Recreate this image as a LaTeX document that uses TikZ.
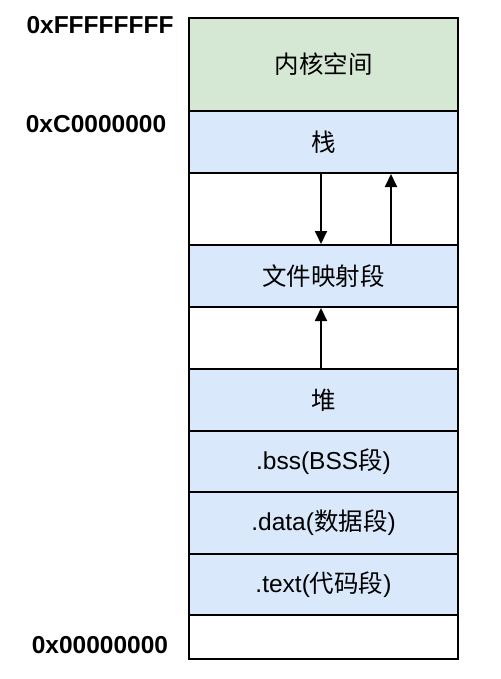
\documentclass[tikz,border=0pt]{standalone}
\usepackage{fontspec}
\setmainfont{Liberation Sans}
\newfontfamily\cjk{Noto Sans CJK SC}
\usetikzlibrary{arrows.meta}
\definecolor{kgreen}{HTML}{D5E8D4}
\definecolor{sblue}{HTML}{DAE8FC}
\begin{document}
\begin{tikzpicture}[x=1pt,y=-1pt,
  seg/.style={draw=black,line width=2pt,minimum width=269pt,inner sep=0pt,anchor=north west,
    font=\fontsize{24.5}{28}\selectfont},
  addr/.style={font=\fontsize{24.5}{28}\selectfont\bfseries,inner sep=0pt},
  arr/.style={line width=1.8pt,-{Triangle[length=13pt,width=12pt]}}]
\useasboundingbox (0,0) rectangle (500,679);
\node[seg,fill=kgreen,minimum height=93pt] (kernel) at (188,17) {{\cjk 内核空间}};
\node[seg,fill=sblue,minimum height=62pt] (stack) at (188,110) {{\cjk 栈}};
\node[seg,fill=white,minimum height=72pt] (gap1) at (188,172) {};
\node[seg,fill=sblue,minimum height=62pt] (mmap) at (188,244) {{\cjk 文件映射段}};
\node[seg,fill=white,minimum height=62pt] (gap2) at (188,306) {};
\node[seg,fill=sblue,minimum height=62pt] (heap) at (188,368) {{\cjk 堆}};
\node[seg,fill=sblue,minimum height=61pt] (bss) at (188,430) {.bss(BSS{\cjk 段})};
\node[seg,fill=sblue,minimum height=62pt] (data) at (188,491) {.data({\cjk 数据段})};
\node[seg,fill=sblue,minimum height=61pt] (text) at (188,553) {.text({\cjk 代码段})};
\node[seg,fill=white,minimum height=44pt] (bottom) at (188,614) {};
\draw[arr] ([xshift=-2.5pt]stack.south) -- ([xshift=-2.5pt]mmap.north);
\draw[arr] ([xshift=67.5pt]mmap.north) -- ([xshift=67.5pt]stack.south);
\draw[arr] ([xshift=-2.5pt]heap.north) -- ([xshift=-2.5pt]mmap.south);
\node[addr] (aF) at (100,25) {0xFFFFFFFF};
\node[addr] (aC) at (96,124) {0xC0000000};
\node[addr] (a0) at (100,645) {0x00000000};
\end{tikzpicture}
\end{document}
